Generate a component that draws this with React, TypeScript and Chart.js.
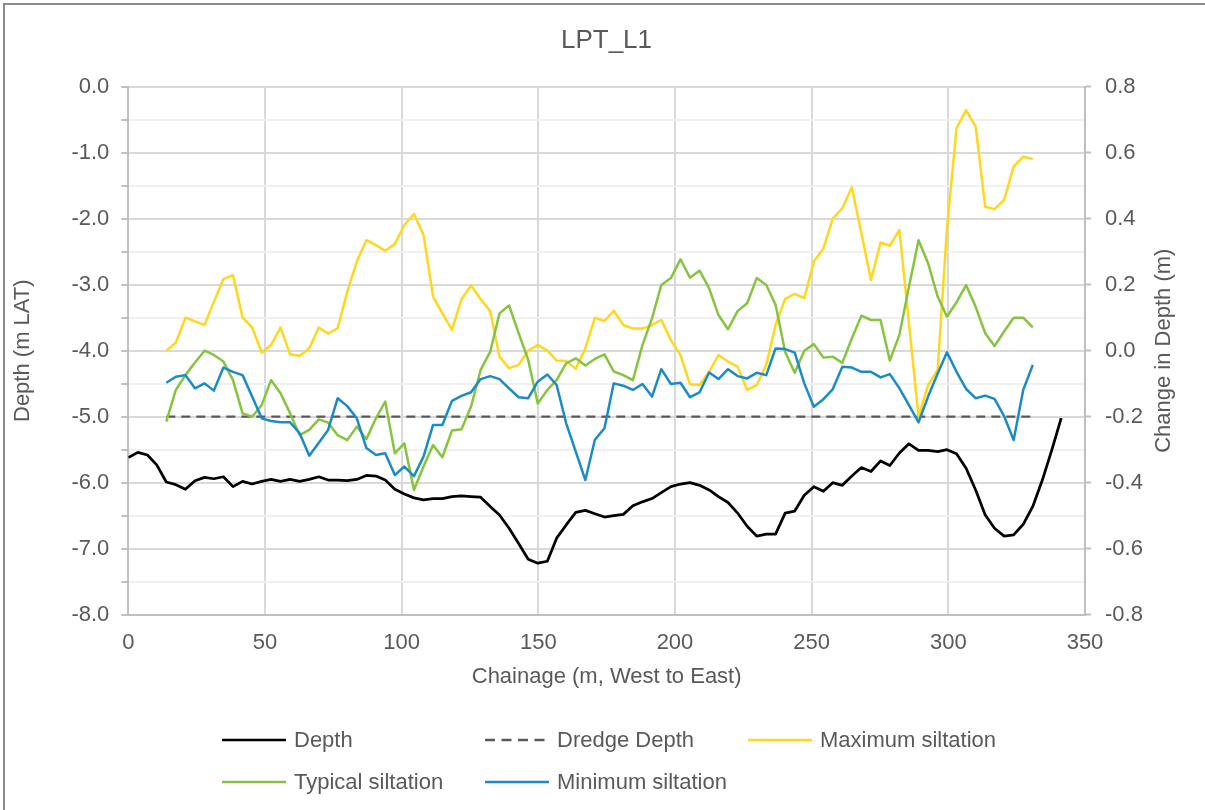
import React, { useEffect, useRef } from 'react';
import { Chart, registerables } from 'chart.js';

Chart.register(...registerables);

// ---------- text ----------
const chartTitle = 'LPT_L1';
const xAxisTitle = 'Chainage (m, West to East)';
const leftAxisTitle = 'Depth (m LAT)';
const rightAxisTitle = 'Change in Depth (m)';

// ---------- tick labels ----------
const xTickLabels = ['0', '50', '100', '150', '200', '250', '300', '350'];
const leftTickLabels = ['0.0', '-1.0', '-2.0', '-3.0', '-4.0', '-5.0', '-6.0', '-7.0', '-8.0'];
const rightTickLabels = ['0.8', '0.6', '0.4', '0.2', '0.0', '-0.2', '-0.4', '-0.6', '-0.8'];

// ---------- data ----------
const chainage = [
  0, 3.5, 7.0, 10.4, 13.9, 17.4, 20.9, 24.4, 27.9, 31.3,
  34.8, 38.3, 41.8, 45.3, 48.8, 52.2, 55.7, 59.2, 62.7, 66.2,
  69.7, 73.1, 76.6, 80.1, 83.6, 87.1, 90.6, 94.0, 97.5, 101.0,
  104.5, 108.0, 111.5, 114.9, 118.4, 121.9, 125.4, 128.9, 132.4, 135.8,
  139.3, 142.8, 146.3, 149.8, 153.3, 156.7, 160.2, 163.7, 167.2, 170.7,
  174.2, 177.6, 181.1, 184.6, 188.1, 191.6, 195.0, 198.5, 202.0, 205.5,
  209.0, 212.5, 215.9, 219.4, 222.9, 226.4, 229.9, 233.4, 236.8, 240.3,
  243.8, 247.3, 250.8, 254.3, 257.7, 261.2, 264.7, 268.2, 271.7, 275.2,
  278.6, 282.1, 285.6, 289.1, 292.6, 296.1, 299.5, 303.0, 306.5, 310.0,
  313.5, 316.9, 320.4, 323.9, 327.4, 330.9, 334.4, 337.9, 341.3,
];

const depth = [
  -5.62, -5.54, -5.58, -5.73, -5.99, -6.03, -6.10, -5.97, -5.92, -5.94,
  -5.91, -6.06, -5.98, -6.02, -5.98, -5.95, -5.98, -5.95, -5.98, -5.95,
  -5.91, -5.96, -5.96, -5.97, -5.95, -5.89, -5.90, -5.96, -6.10, -6.17,
  -6.23, -6.26, -6.24, -6.24, -6.21, -6.20, -6.21, -6.22, -6.36, -6.49,
  -6.69, -6.92, -7.16, -7.22, -7.19, -6.84, -6.64, -6.45, -6.42, -6.47,
  -6.52, -6.50, -6.48, -6.35, -6.29, -6.24, -6.15, -6.06, -6.02, -6.00,
  -6.04, -6.11, -6.21, -6.30, -6.46, -6.66, -6.81, -6.78, -6.78, -6.46,
  -6.43, -6.19, -6.06, -6.13, -6.00, -6.04, -5.90, -5.77, -5.83, -5.67,
  -5.74, -5.55, -5.41, -5.51, -5.51, -5.53, -5.50, -5.56, -5.78, -6.11,
  -6.49, -6.69, -6.81, -6.79, -6.63, -6.36, -5.96, -5.50, -5.02,
];

// siltation series run from 13.9 m to 330.9 m
const siltationChainage = [
  13.9, 17.4, 20.9, 24.4, 27.9, 31.3,
  34.8, 38.3, 41.8, 45.3, 48.8, 52.2, 55.7, 59.2, 62.7, 66.2,
  69.7, 73.1, 76.6, 80.1, 83.6, 87.1, 90.6, 94.0, 97.5, 101.0,
  104.5, 108.0, 111.5, 114.9, 118.4, 121.9, 125.4, 128.9, 132.4, 135.8,
  139.3, 142.8, 146.3, 149.8, 153.3, 156.7, 160.2, 163.7, 167.2, 170.7,
  174.2, 177.6, 181.1, 184.6, 188.1, 191.6, 195.0, 198.5, 202.0, 205.5,
  209.0, 212.5, 215.9, 219.4, 222.9, 226.4, 229.9, 233.4, 236.8, 240.3,
  243.8, 247.3, 250.8, 254.3, 257.7, 261.2, 264.7, 268.2, 271.7, 275.2,
  278.6, 282.1, 285.6, 289.1, 292.6, 296.1, 299.5, 303.0, 306.5, 310.0,
  313.5, 316.9, 320.4, 323.9, 327.4, 330.9,
];

const maxSiltation = [
  0.000, 0.024, 0.100, 0.089, 0.078, 0.148,
  0.217, 0.229, 0.100, 0.071, -0.006, 0.017, 0.070, -0.011, -0.015, 0.007,
  0.070, 0.052, 0.068, 0.179, 0.270, 0.335, 0.320, 0.303, 0.323, 0.381,
  0.414, 0.351, 0.164, 0.113, 0.063, 0.156, 0.198, 0.156, 0.120, -0.018,
  -0.053, -0.043, 0.000, 0.017, 0.000, -0.030, -0.031, -0.055, 0.007, 0.100,
  0.090, 0.121, 0.078, 0.067, 0.067, 0.078, 0.093, 0.032, -0.013, -0.102,
  -0.104, -0.064, -0.013, -0.033, -0.048, -0.119, -0.104, -0.043, 0.078, 0.157,
  0.172, 0.159, 0.270, 0.310, 0.400, 0.431, 0.495, 0.356, 0.214, 0.328,
  0.318, 0.366, 0.083, -0.200, -0.104, -0.058, 0.370, 0.674, 0.729, 0.679,
  0.436, 0.429, 0.457, 0.558, 0.588, 0.581,
];

const typicalSiltation = [
  -0.215, -0.119, -0.074, -0.036, 0.000, -0.013,
  -0.033, -0.089, -0.190, -0.200, -0.165, -0.089, -0.129, -0.190, -0.256, -0.240,
  -0.208, -0.218, -0.256, -0.271, -0.230, -0.268, -0.205, -0.154, -0.311, -0.281,
  -0.422, -0.351, -0.286, -0.323, -0.242, -0.238, -0.169, -0.058, -0.003, 0.113,
  0.137, 0.053, -0.028, -0.160, -0.119, -0.089, -0.038, -0.023, -0.045, -0.025,
  -0.011, -0.063, -0.074, -0.089, 0.017, 0.098, 0.199, 0.220, 0.277, 0.221,
  0.243, 0.189, 0.108, 0.065, 0.120, 0.144, 0.220, 0.199, 0.139, -0.004,
  -0.067, 0.000, 0.020, -0.021, -0.018, -0.037, 0.037, 0.106, 0.093, 0.093,
  -0.030, 0.048, 0.194, 0.335, 0.265, 0.164, 0.103, 0.147, 0.199, 0.133,
  0.053, 0.014, 0.058, 0.100, 0.100, 0.071,
];

const minSiltation = [
  -0.097, -0.079, -0.074, -0.114, -0.099, -0.121,
  -0.051, -0.064, -0.074, -0.139, -0.205, -0.213, -0.217, -0.217, -0.250, -0.318,
  -0.279, -0.240, -0.144, -0.168, -0.205, -0.295, -0.316, -0.311, -0.377, -0.351,
  -0.380, -0.321, -0.225, -0.225, -0.152, -0.137, -0.126, -0.086, -0.077, -0.086,
  -0.114, -0.141, -0.144, -0.094, -0.072, -0.104, -0.220, -0.306, -0.392, -0.270,
  -0.235, -0.099, -0.106, -0.119, -0.101, -0.139, -0.056, -0.101, -0.097, -0.141,
  -0.126, -0.066, -0.086, -0.056, -0.077, -0.084, -0.067, -0.074, 0.007, 0.005,
  -0.006, -0.099, -0.170, -0.147, -0.117, -0.049, -0.051, -0.064, -0.064, -0.081,
  -0.071, -0.114, -0.165, -0.217, -0.139, -0.069, -0.005, -0.064, -0.116, -0.144,
  -0.136, -0.146, -0.198, -0.271, -0.119, -0.043,
];

const dredgeChainage = [13.9, 330.9];
const dredgeDepth = [-5.0, -5.0];

// ---------- styles ----------
const FONT = '"Liberation Sans", Arial, Helvetica, sans-serif';
const TEXT_COLOR = '#595959';
const COLORS = {
  depth: '#000000',
  dredge: '#595959',
  max: '#FFD71E',
  typical: '#86C440',
  min: '#1B8BC6',
};
const DREDGE_DASH = [9, 6];

type LegendEntry = { label: string; color: string; dash?: number[]; col: number; row: number };
const legendEntries: LegendEntry[] = [
  { label: 'Depth', color: COLORS.depth, col: 0, row: 0 },
  { label: 'Dredge Depth', color: COLORS.dredge, dash: [10, 6.5], col: 1, row: 0 },
  { label: 'Maximum siltation', color: COLORS.max, col: 2, row: 0 },
  { label: 'Typical siltation', color: COLORS.typical, col: 0, row: 1 },
  { label: 'Minimum siltation', color: COLORS.min, col: 1, row: 1 },
];
const LEGEND_COL_X = [222, 485, 748];
const LEGEND_ROW_Y = [740, 782];

const isLabelled = (labels: string[], v: number) =>
  labels.some((l) => Math.abs(Number(l) - v) < 1e-9);
const labelFor = (labels: string[], v: number) => {
  const l = labels.find((s) => Math.abs(Number(s) - v) < 1e-9);
  return l === undefined ? '' : l;
};

const rightTitlePlugin = {
  id: 'rightTitle',
  afterDraw(chart: any) {
    const { ctx, chartArea } = chart;
    const s = chart.scales.y1;
    ctx.save();
    ctx.translate(s.left + 79, (chartArea.top + chartArea.bottom) / 2);
    ctx.rotate(-Math.PI / 2);
    ctx.font = `22px ${FONT}`;
    ctx.fillStyle = TEXT_COLOR;
    ctx.textAlign = 'center';
    ctx.textBaseline = 'middle';
    ctx.fillText(rightAxisTitle, 0, 0);
    ctx.restore();
  },
};

export default function App() {
  const canvasRef = useRef<HTMLCanvasElement | null>(null);

  useEffect(() => {
    if (!canvasRef.current) return;
    const lineBase = { pointRadius: 0, pointHoverRadius: 0, tension: 0, fill: false, borderJoinStyle: 'round' as const };

    const chart = new Chart(canvasRef.current, {
      type: 'line',
      data: {
        datasets: [
          {
            ...lineBase,
            label: 'Depth',
            data: chainage.map((x, i) => ({ x, y: depth[i] })),
            yAxisID: 'y',
            borderColor: COLORS.depth,
            backgroundColor: COLORS.depth,
            borderWidth: 2.75,
            order: 5,
          },
          {
            ...lineBase,
            label: 'Dredge Depth',
            data: dredgeChainage.map((x, i) => ({ x, y: dredgeDepth[i] })),
            yAxisID: 'y',
            borderColor: COLORS.dredge,
            backgroundColor: COLORS.dredge,
            borderWidth: 2.25,
            borderDash: DREDGE_DASH,
            order: 4,
          },
          {
            ...lineBase,
            label: 'Maximum siltation',
            data: siltationChainage.map((x, i) => ({ x, y: maxSiltation[i] })),
            yAxisID: 'y1',
            borderColor: COLORS.max,
            backgroundColor: COLORS.max,
            borderWidth: 2.5,
            order: 3,
          },
          {
            ...lineBase,
            label: 'Typical siltation',
            data: siltationChainage.map((x, i) => ({ x, y: typicalSiltation[i] })),
            yAxisID: 'y1',
            borderColor: COLORS.typical,
            backgroundColor: COLORS.typical,
            borderWidth: 2.5,
            order: 2,
          },
          {
            ...lineBase,
            label: 'Minimum siltation',
            data: siltationChainage.map((x, i) => ({ x, y: minSiltation[i] })),
            yAxisID: 'y1',
            borderColor: COLORS.min,
            backgroundColor: COLORS.min,
            borderWidth: 2.5,
            order: 1,
          },
        ],
      },
      options: {
        animation: false,
        responsive: false,
        devicePixelRatio: 1,
        events: [],
        layout: { padding: { left: 8, right: 0, top: 0, bottom: 116.1 } },
        plugins: {
          legend: { display: false },
          tooltip: { enabled: false },
          title: {
            display: true,
            text: chartTitle,
            color: TEXT_COLOR,
            font: { family: FONT, size: 26, weight: 'normal' },
            padding: { top: 25, bottom: 30.5 },
          },
        },
        scales: {
          x: {
            type: 'linear',
            position: 'bottom',
            min: 0,
            max: 350,
            afterBuildTicks: (scale: any) => {
              scale.ticks = xTickLabels.map((l) => ({ value: Number(l) }));
            },
            afterFit: (scale: any) => {
              scale.height = 79.2;
            },
            ticks: {
              autoSkip: false,
              maxRotation: 0,
              padding: 15,
              color: TEXT_COLOR,
              font: { family: FONT, size: 22 },
              callback: (v: any) => labelFor(xTickLabels, Number(v)),
            },
            grid: { color: '#d9d9d9', lineWidth: 2, drawTicks: false },
            border: { color: '#bfbfbf', width: 2 },
            title: {
              display: true,
              text: xAxisTitle,
              color: TEXT_COLOR,
              font: { family: FONT, size: 22 },
              padding: { top: 4, bottom: 4 },
            },
          },
          y: {
            type: 'linear',
            position: 'left',
            min: -8,
            max: 0,
            afterBuildTicks: (scale: any) => {
              const major = leftTickLabels.map(Number).sort((a, b) => a - b);
              const t: any[] = [];
              major.forEach((v, i) => {
                t.push({ value: v });
                if (i < major.length - 1) t.push({ value: (v + major[i + 1]) / 2 });
              });
              scale.ticks = t;
            },
            afterFit: (scale: any) => {
              scale.width = 120.3;
            },
            ticks: {
              autoSkip: false,
              padding: 12,
              color: TEXT_COLOR,
              font: { family: FONT, size: 22 },
              callback: (v: any) => labelFor(leftTickLabels, Number(v)),
            },
            grid: {
              color: (ctx: any) => (isLabelled(leftTickLabels, ctx.tick.value) ? '#d9d9d9' : '#f0f0f0'),
              lineWidth: 2,
              tickLength: 7,
              tickColor: '#bfbfbf',
              tickWidth: 2,
            },
            border: { color: '#bfbfbf', width: 2 },
            title: {
              display: true,
              text: leftAxisTitle,
              color: TEXT_COLOR,
              font: { family: FONT, size: 22 },
              padding: { top: 2, bottom: 2 },
            },
          },
          y1: {
            type: 'linear',
            position: 'right',
            min: -0.8,
            max: 0.8,
            afterBuildTicks: (scale: any) => {
              scale.ticks = rightTickLabels
                .map(Number)
                .sort((a, b) => a - b)
                .map((v) => ({ value: v }));
            },
            afterFit: (scale: any) => {
              scale.width = 120;
            },
            ticks: {
              autoSkip: false,
              padding: 14,
              color: TEXT_COLOR,
              font: { family: FONT, size: 22 },
              callback: (v: any) => labelFor(rightTickLabels, Number(v)),
            },
            grid: {
              drawOnChartArea: false,
              tickLength: 6,
              tickColor: '#bfbfbf',
              tickWidth: 2,
            },
            border: { color: '#bfbfbf', width: 2 },
            title: { display: false, text: rightAxisTitle },
          },
        },
      },
      plugins: [rightTitlePlugin],
    } as any);

    return () => chart.destroy();
  }, []);

  return (
    <div
      style={{
        position: 'absolute',
        left: 0,
        top: 0,
        width: 1205,
        height: 810,
        overflow: 'hidden',
        background: '#ffffff',
      }}
    >
      <div
        style={{
          position: 'absolute',
          left: 3,
          top: 3,
          width: 1300,
          height: 900,
          borderTop: '2px solid #8c8c8c',
          borderLeft: '2px solid #8c8c8c',
        }}
      />
      <canvas
        ref={canvasRef}
        width={1205}
        height={810}
        style={{ position: 'absolute', left: 0, top: 0, width: 1205, height: 810, display: 'block' }}
      />
      {legendEntries.map((e) => (
        <div
          key={e.label}
          style={{
            position: 'absolute',
            left: LEGEND_COL_X[e.col],
            top: LEGEND_ROW_Y[e.row] - 11,
            height: 22,
            display: 'flex',
            alignItems: 'center',
            whiteSpace: 'nowrap',
          }}
        >
          <svg width={64} height={22} style={{ display: 'block' }}>
            <line
              x1={0}
              y1={11}
              x2={64}
              y2={11}
              stroke={e.color}
              strokeWidth={2.5}
              strokeDasharray={e.dash ? e.dash.join(' ') : undefined}
            />
          </svg>
          <span
            style={{
              marginLeft: 8,
              fontFamily: FONT,
              fontSize: 22,
              lineHeight: '22px',
              color: TEXT_COLOR,
            }}
          >
            {e.label}
          </span>
        </div>
      ))}
    </div>
  );
}
